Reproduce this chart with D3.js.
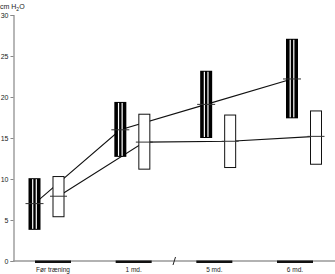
<!DOCTYPE html>
<html>
<head>
<meta charset="utf-8">
<script src="https://cdn.jsdelivr.net/npm/d3@7"></script>
<style>
  body { margin: 0; background: #fff; }
  svg { display: block; }
</style>
</head>
<body>
<div id="chart"></div>
<script>
const categories = ["Før træning", "1 md.", "5 md.", "6 md."];
const stripedLow = [3.8, 12.7, 15.0, 17.4];
const stripedMedian = [7.0, 16.0, 19.1, 22.2];
const stripedHigh = [10.1, 19.4, 23.2, 27.1];
const openLow = [5.4, 11.2, 11.4, 11.8];
const openMedian = [7.9, 14.5, 14.6, 15.2];
const openHigh = [10.3, 17.9, 17.8, 18.3];
const yTicks = [0, 5, 10, 15, 20, 25, 30];

const width = 335, height = 274;
const font = "'Liberation Sans', Arial, sans-serif";

const svg = d3.select("#chart")
  .append("svg")
  .attr("width", width)
  .attr("height", height);

const y = d3.scaleLinear().domain([0, 30]).range([261, 15]);
// boxes and labels sit on slightly different grids in the original
const xBox = d3.scalePoint().domain(categories).range([46.5, 304]);
const xLab = d3.scalePoint().domain(categories).range([53, 295]);
const off = 12;
const sw = 12, ow = 11;

// y axis
const yAxis = svg.append("g")
  .attr("transform", "translate(13.5,0)")
  .call(d3.axisLeft(y).tickValues(yTicks).tickSize(3).tickPadding(2));
yAxis.select(".domain").attr("stroke", "#888").attr("stroke-width", 1.2);
yAxis.selectAll(".tick line").attr("stroke", "#888");
yAxis.selectAll(".tick text")
  .attr("font-family", font).attr("font-size", 7).attr("fill", "#222");

svg.append("text")
  .attr("x", 0).attr("y", 9)
  .attr("font-family", font).attr("font-size", 7).attr("fill", "#222")
  .call(t => {
    t.append("tspan").text("cm H");
    t.append("tspan").attr("font-size", 5).attr("dy", 2).text("2");
    t.append("tspan").attr("dy", -2).text("O");
  });

// x axis
svg.append("line")
  .attr("x1", 13).attr("x2", width).attr("y1", 261).attr("y2", 261)
  .attr("stroke", "#999").attr("stroke-width", 1.5);

svg.append("g").selectAll("rect")
  .data(categories)
  .join("rect")
  .attr("x", d => xLab(d) - 18)
  .attr("y", 260.5)
  .attr("width", 36)
  .attr("height", 2.5)
  .attr("fill", "#111");

svg.append("line")
  .attr("x1", 173).attr("x2", 175.5).attr("y1", 265).attr("y2", 257)
  .attr("stroke", "#222").attr("stroke-width", 1);

svg.append("g").selectAll("text")
  .data(categories)
  .join("text")
  .attr("x", d => xLab(d))
  .attr("y", 272)
  .attr("text-anchor", "middle")
  .attr("font-family", font).attr("font-size", 6.5).attr("fill", "#222")
  .text(d => d);

// median lines
const line = d3.line().x(d => d[0]).y(d => d[1]);
svg.append("path")
  .datum(categories.map((c, i) => [xBox(c) - off, y(stripedMedian[i])]))
  .attr("d", line).attr("fill", "none").attr("stroke", "#111").attr("stroke-width", 1.1);
svg.append("path")
  .datum(categories.map((c, i) => [xBox(c) + off, y(openMedian[i])]))
  .attr("d", line).attr("fill", "none").attr("stroke", "#111").attr("stroke-width", 1.1);

// striped boxes
const sg = svg.append("g").selectAll("g")
  .data(categories)
  .join("g")
  .attr("transform", d => `translate(${xBox(d) - off - sw / 2},0)`);
sg.append("rect")
  .attr("y", (d, i) => y(stripedHigh[i]))
  .attr("width", sw)
  .attr("height", (d, i) => y(stripedLow[i]) - y(stripedHigh[i]))
  .attr("fill", "#000");
[3.6, 7.2].forEach(s => {
  sg.append("rect")
    .attr("x", s)
    .attr("y", (d, i) => y(stripedHigh[i]) + 1)
    .attr("width", 1.2)
    .attr("height", (d, i) => y(stripedLow[i]) - y(stripedHigh[i]) - 2)
    .attr("fill", "#fff");
});
sg.append("line")
  .attr("x1", -3).attr("x2", sw + 3)
  .attr("y1", (d, i) => y(stripedMedian[i]))
  .attr("y2", (d, i) => y(stripedMedian[i]))
  .attr("stroke", "#333").attr("stroke-width", 1);

// open boxes
const og = svg.append("g").selectAll("g")
  .data(categories)
  .join("g")
  .attr("transform", d => `translate(${xBox(d) + off - ow / 2},0)`);
og.append("rect")
  .attr("y", (d, i) => y(openHigh[i]))
  .attr("width", ow)
  .attr("height", (d, i) => y(openLow[i]) - y(openHigh[i]))
  .attr("fill", "#fff")
  .attr("stroke", "#111")
  .attr("stroke-width", 1);
og.append("line")
  .attr("x1", -3).attr("x2", ow + 3)
  .attr("y1", (d, i) => y(openMedian[i]))
  .attr("y2", (d, i) => y(openMedian[i]))
  .attr("stroke", "#333").attr("stroke-width", 1);
</script>
</body>
</html>
